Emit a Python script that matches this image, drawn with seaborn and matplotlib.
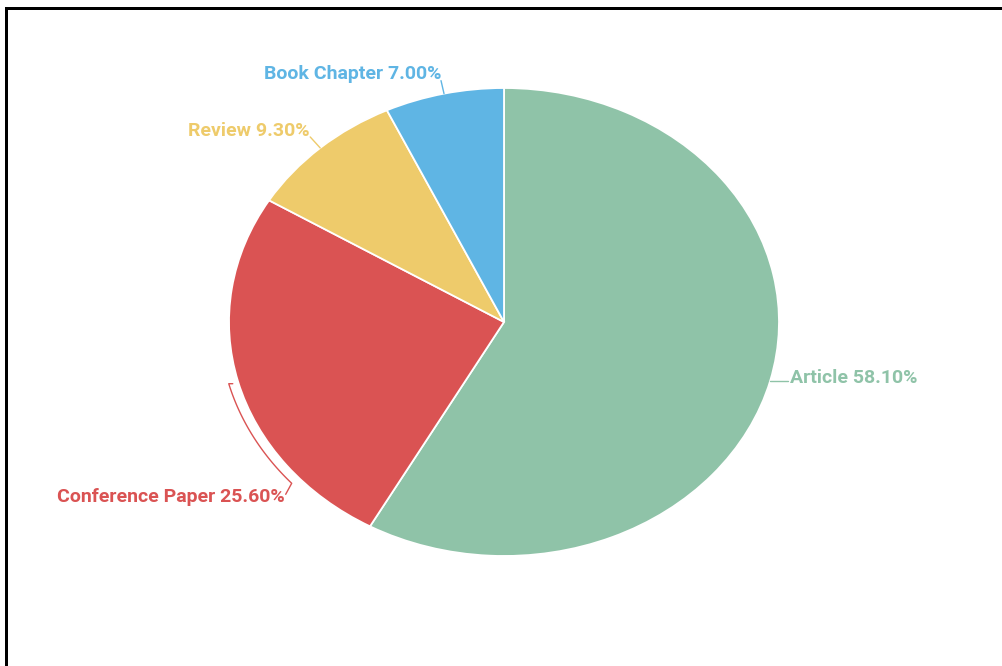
import numpy as np
import matplotlib
matplotlib.use("Agg")
import matplotlib.pyplot as plt
from matplotlib.lines import Line2D
import seaborn as sns

# Publication types and their shares (%)
categories = ["Article", "Conference Paper", "Review", "Book Chapter"]
shares = [58.10, 25.60, 9.30, 7.00]
colors = ["#8fc3a8", "#da5353", "#eecb6b", "#5fb5e4"]

sns.set_theme(style="white")
plt.rcParams["font.family"] = ["Roboto", "DejaVu Sans"]

W, H, DPI = 1003, 666, 100
fig = plt.figure(figsize=(W / DPI, H / DPI), dpi=DPI)
fig.patch.set_facecolor("white")

# Pie geometry in pixels: centre and the two semi-axes (slightly oval pie)
cx, cy = 504, 322
rx, ry = 275, 234

ax = fig.add_axes([0, 0, 1, 1])

wedges, _ = ax.pie(
    shares,
    colors=sns.color_palette(colors),
    startangle=90,
    counterclock=False,
    radius=1.0,
    wedgeprops=dict(edgecolor="white", linewidth=1.3),
)
ax.set_xlim(-cx / rx, (W - cx) / rx)
ax.set_ylim(-(H - cy) / ry, cy / ry)
ax.set_aspect("auto")
ax.axis("off")


def px(dx, dy):
    """Pixel offset (screen y down) -> data offset."""
    return dx / rx, -dy / ry


# Label layout: arc sweep of the leader (deg), elbow offset and text offset in px
layout = {
    "Article":          dict(sweep=0,  rlead=1.0,   elbow=(18, 0),    text=(20, -3),   ha="left"),
    "Conference Paper": dict(sweep=27, rlead=1.035, elbow=(-6, 11),   text=(-7, 14),   ha="right"),
    "Review":           dict(sweep=0,  rlead=1.0,   elbow=(-10, -11), text=(-11, -17), ha="right"),
    "Book Chapter":     dict(sweep=0,  rlead=1.0,   elbow=(-3, -13),  text=(-3, -20),  ha="right"),
}

for w, name, val, col in zip(wedges, categories, shares, colors):
    mid = 0.5 * (w.theta1 + w.theta2)
    L = layout[name]
    ts = np.radians(np.linspace(mid, mid + L["sweep"], 40))
    xs = list(L["rlead"] * np.cos(ts))
    ys = list(L["rlead"] * np.sin(ts))
    if L["sweep"] != 0:
        # short stub leaving the slice edge
        xs.insert(0, xs[0] + 4 / rx)
        ys.insert(0, ys[0])
    ex, ey = px(*L["elbow"])
    xs.append(xs[-1] + ex)
    ys.append(ys[-1] + ey)
    ax.plot(xs, ys, color=col, lw=1.0, solid_capstyle="round")
    tx, ty = px(*L["text"])
    ax.text(xs[-2] + tx, ys[-2] + ty, f"{name} {val:.2f}%",
            color=col, fontsize=14, fontweight="semibold",
            ha=L["ha"], va="center")

# Frame lines along the top and left edges of the canvas
lw = 3 * 72 / DPI
fig.add_artist(Line2D([6.5 / W, 6.5 / W], [0, 1 - 7.5 / H], color="black",
                      lw=lw, transform=fig.transFigure, solid_capstyle="projecting"))
fig.add_artist(Line2D([6.5 / W, 1], [1 - 7.5 / H, 1 - 7.5 / H], color="black",
                      lw=lw, transform=fig.transFigure, solid_capstyle="projecting"))

fig.savefig("out.png", dpi=DPI, facecolor="white")
